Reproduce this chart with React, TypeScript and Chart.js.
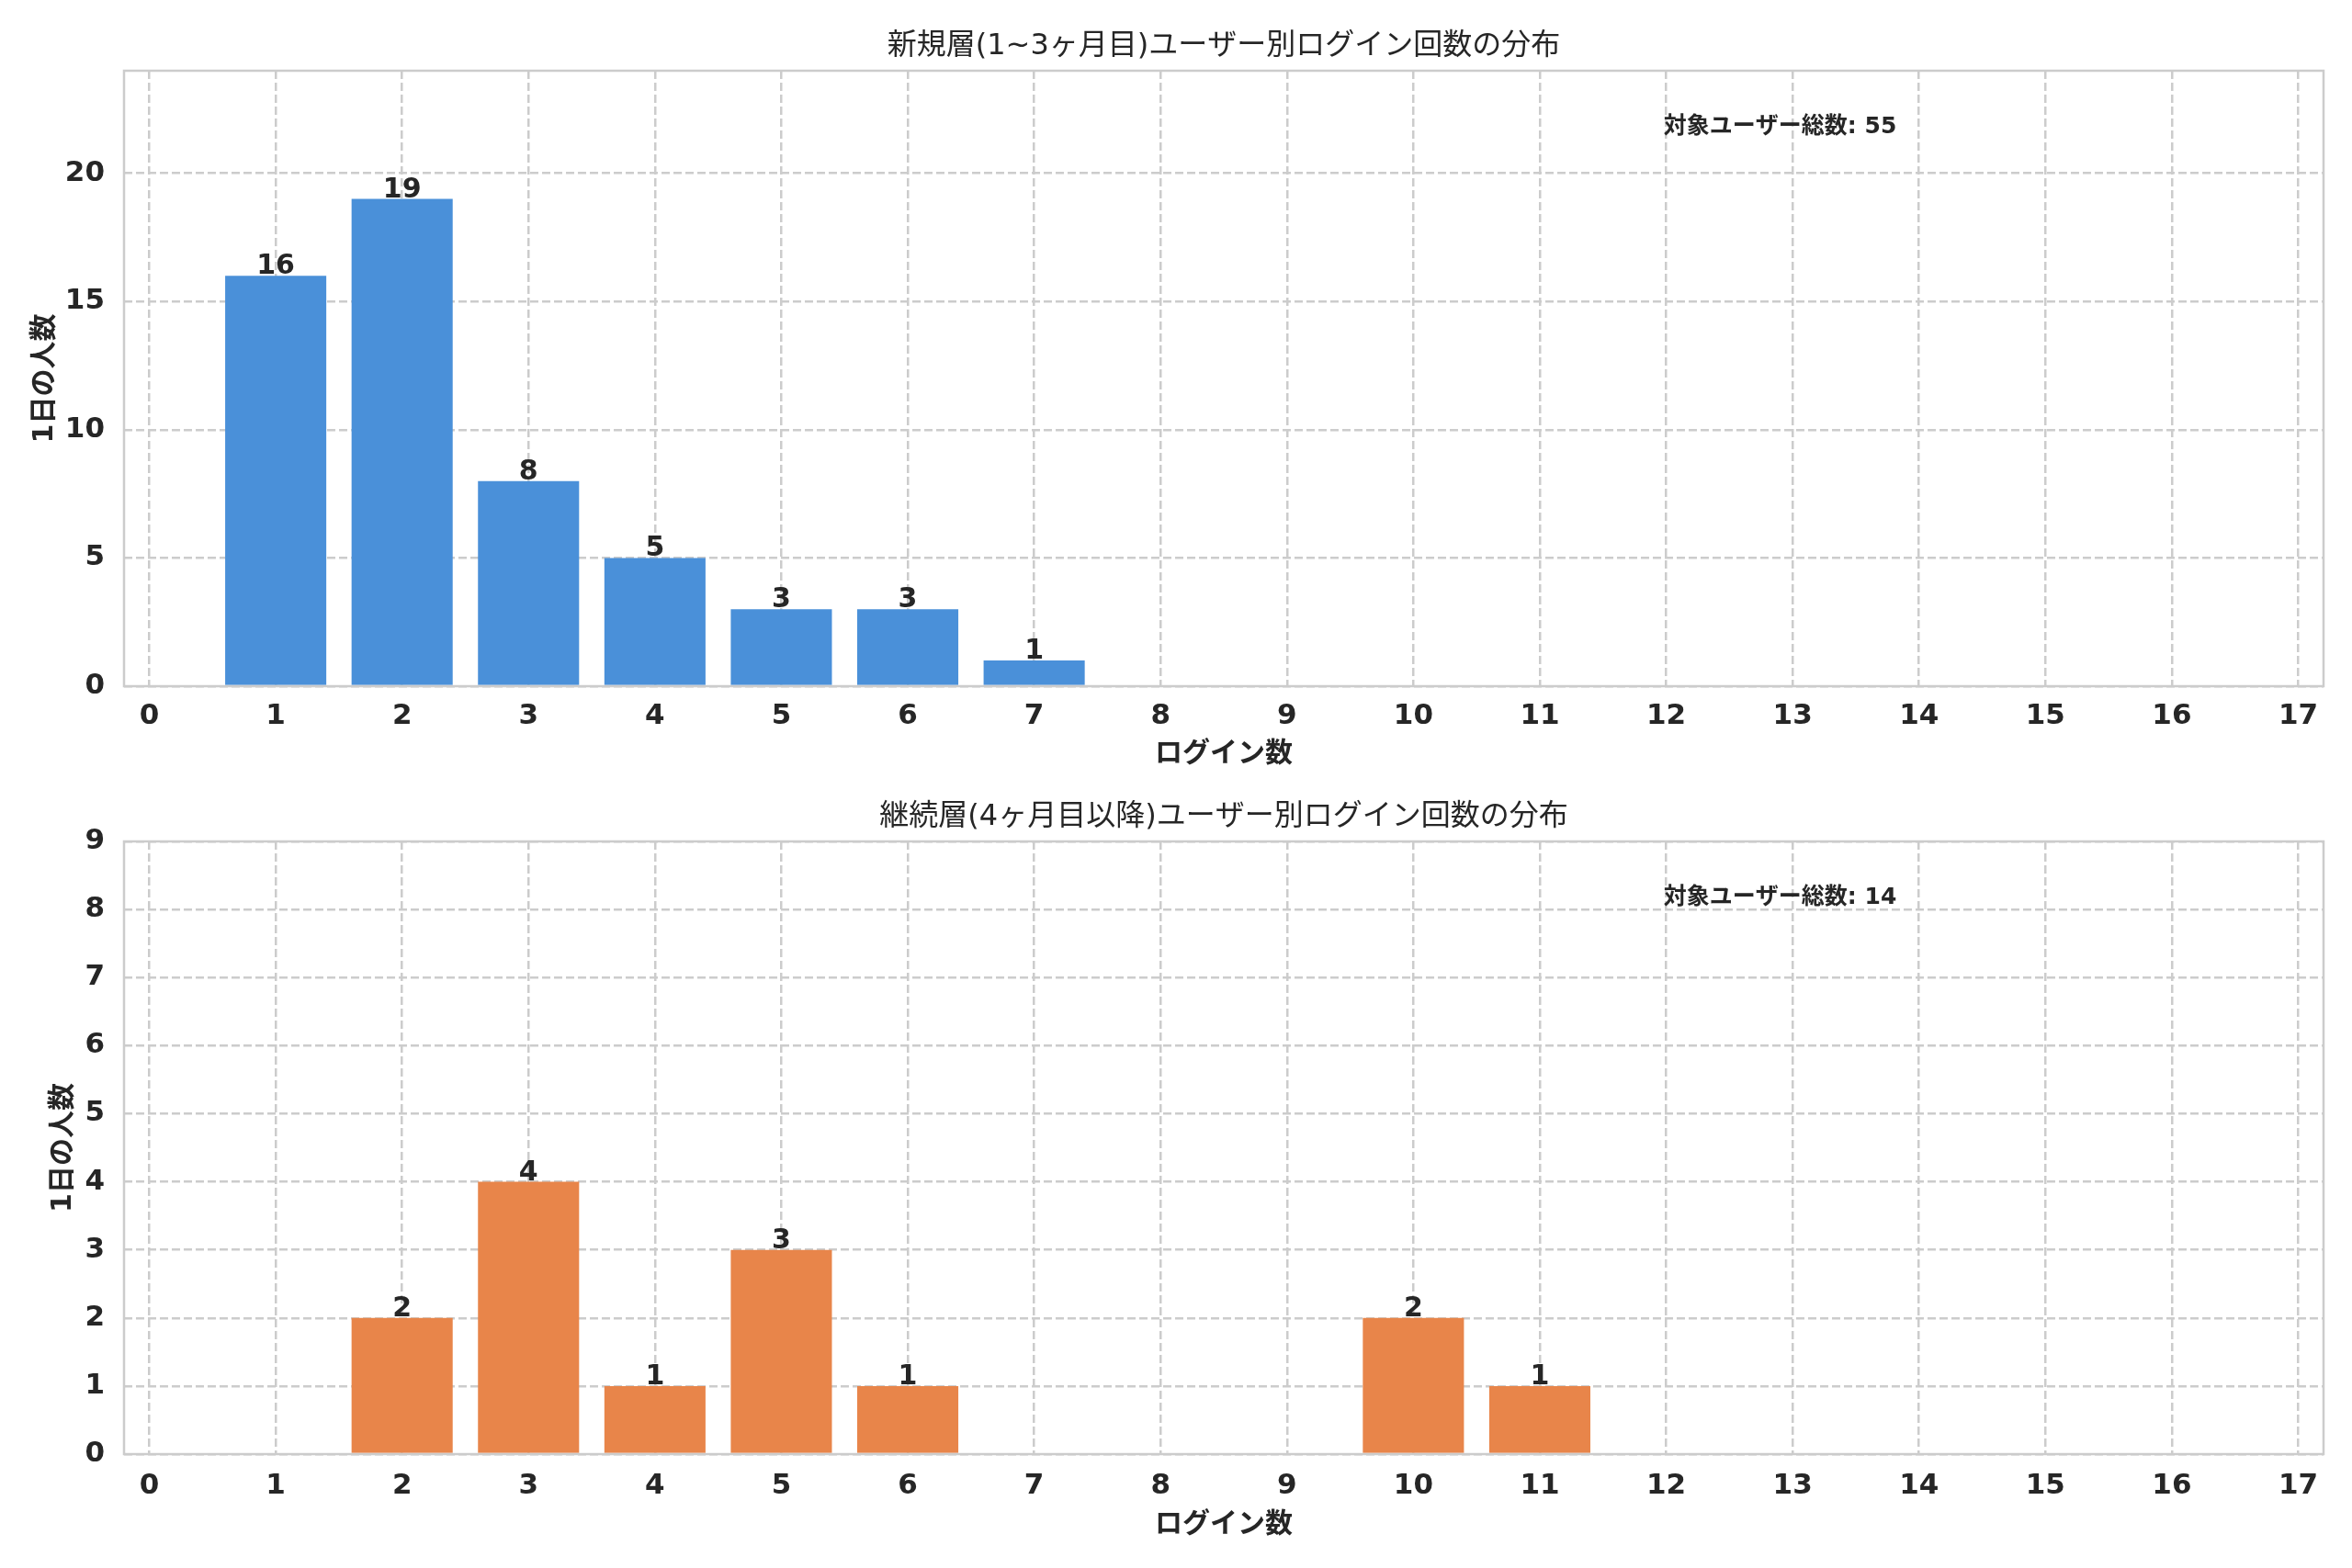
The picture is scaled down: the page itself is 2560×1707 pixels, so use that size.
import React, { useEffect, useRef } from "react";
import { Chart, registerables } from "chart.js";

Chart.register(...registerables);

// ---- data ----
const xTicks = [0, 1, 2, 3, 4, 5, 6, 7, 8, 9, 10, 11, 12, 13, 14, 15, 16, 17];
const shortX = [1, 2, 3, 4, 5, 6, 7];
const shortCounts = [16, 19, 8, 5, 3, 3, 1];
const longX = [2, 3, 4, 5, 6, 10, 11];
const longCounts = [2, 4, 1, 3, 1, 2, 1];
const shortYTicks = [0, 5, 10, 15, 20];
const longYTicks = [0, 1, 2, 3, 4, 5, 6, 7, 8, 9];
const shortTitle = "新規層(1~3ヶ月目)ユーザー別ログイン回数の分布";
const longTitle = "継続層(4ヶ月目以降)ユーザー別ログイン回数の分布";
const xLabel = "ログイン数";
const yLabel = "1日の人数";
const totalLabel = "対象ユーザー総数";

const FAMILY = "'DejaVu Sans', 'Noto Sans CJK JP', sans-serif";
const TEXT = "#262626";
const GRID = "#cccccc";

const overlayPlugin = {
  id: "overlay",
  afterDatasetsDraw(chart: any, _args: any, opts: any) {
    const ctx = chart.ctx;
    const a = chart.chartArea;
    ctx.save();
    ctx.strokeStyle = GRID;
    ctx.lineWidth = 2.5;
    ctx.strokeRect(a.left, a.top, a.right - a.left, a.bottom - a.top);
    const meta = chart.getDatasetMeta(0);
    const ds = chart.data.datasets[0].data;
    ctx.fillStyle = TEXT;
    ctx.font = `bold 30px ${FAMILY}`;
    ctx.textAlign = "center";
    ctx.textBaseline = "alphabetic";
    meta.data.forEach((el: any, i: number) => {
      ctx.fillText(String(ds[i].y), el.x, el.y - 2);
    });
    ctx.font = `bold 25px ${FAMILY}`;
    ctx.textAlign = "left";
    ctx.fillText(
      `${totalLabel}: ${opts.total}`,
      a.left + 0.7 * (a.right - a.left),
      a.bottom - 0.898 * (a.bottom - a.top)
    );
    ctx.restore();
  },
};

type Props = {
  xs: number[];
  counts: number[];
  color: string;
  yMax: number;
  yTicks: number[];
  title: string;
  height: number;
  top: number;
  axisHeight: number;
  tickPad: number;
  xTitlePad: number;
  yTitlePad: number;
};

function BarPanel(p: Props) {
  const ref = useRef<HTMLCanvasElement | null>(null);
  useEffect(() => {
    if (!ref.current) return;
    const total = p.counts.reduce((s, v) => s + v, 0);
    const chart = new Chart(ref.current, {
      type: "bar",
      data: {
        datasets: [
          {
            data: p.xs.map((x, i) => ({ x, y: p.counts[i] })),
            backgroundColor: p.color,
            borderWidth: 0,
            barPercentage: 0.8,
            categoryPercentage: 1.0,
          } as any,
        ],
      },
      options: {
        animation: false,
        responsive: false,
        devicePixelRatio: 1,
        layout: { padding: { left: 0, right: 31, top: 0, bottom: 0 } },
        plugins: {
          legend: { display: false },
          tooltip: { enabled: false },
          title: {
            display: true,
            fullSize: false,
            text: p.title,
            color: TEXT,
            font: { family: FAMILY, size: 32, weight: "normal" as any },
            padding: { top: 31, bottom: 7.6 },
          },
          overlay: { total },
        } as any,
        scales: {
          x: {
            type: "linear",
            min: -0.2,
            max: 17.2,
            offset: false,
            afterBuildTicks: (s: any) => {
              s.ticks = xTicks.map((v) => ({ value: v }));
            },
            afterFit: (s: any) => {
              s.height = p.axisHeight;
            },
            grid: { color: GRID, lineWidth: 2.5, drawTicks: false, offset: false },
            border: { display: false, dash: [9, 4] },
            ticks: {
              color: TEXT,
              font: { family: FAMILY, size: 31, weight: "bold" as any },
              padding: p.tickPad,
              autoSkip: false,
              maxRotation: 0,
              callback: (v: any) => String(v),
            },
            title: {
              display: true,
              text: xLabel,
              color: TEXT,
              font: { family: FAMILY, size: 30, weight: "bold" as any },
              padding: { top: 0, bottom: p.xTitlePad },
            },
          },
          y: {
            type: "linear",
            min: 0,
            max: p.yMax,
            afterBuildTicks: (s: any) => {
              s.ticks = p.yTicks.map((v) => ({ value: v }));
            },
            afterFit: (s: any) => {
              s.width = 135;
            },
            grid: { color: GRID, lineWidth: 2.5, drawTicks: false },
            border: { display: false, dash: [9, 4] },
            ticks: {
              color: TEXT,
              font: { family: FAMILY, size: 31, weight: "bold" as any },
              padding: 21,
              callback: (v: any) => String(v),
            },
            title: {
              display: true,
              text: yLabel,
              color: TEXT,
              font: { family: FAMILY, size: 30, weight: "bold" as any },
              padding: { top: p.yTitlePad, bottom: 0 },
            },
          },
        } as any,
      },
      plugins: [overlayPlugin as any],
    });
    return () => chart.destroy();
  }, []);
  return (
    <canvas
      ref={ref}
      width={2560}
      height={p.height}
      style={{ position: "absolute", left: 0, top: p.top, width: 2560, height: p.height, display: "block" }}
    />
  );
}

export default function App() {
  return (
    <div style={{ position: "absolute", left: 0, top: 0, width: 2560, height: 1707, background: "#ffffff" }}>
      <BarPanel
        xs={shortX}
        counts={shortCounts}
        color="#4A90D9"
        yMax={24}
        yTicks={shortYTicks}
        title={shortTitle}
        height={839}
        top={0}
        axisHeight={92}
        tickPad={14.4}
        xTitlePad={0}
        yTitlePad={31.5}
      />
      <BarPanel
        xs={longX}
        counts={longCounts}
        color="#E8854A"
        yMax={9}
        yTicks={longYTicks}
        title={longTitle}
        height={868}
        top={839}
        axisHeight={124}
        tickPad={16.4}
        xTitlePad={29}
        yTitlePad={51.5}
      />
    </div>
  );
}
